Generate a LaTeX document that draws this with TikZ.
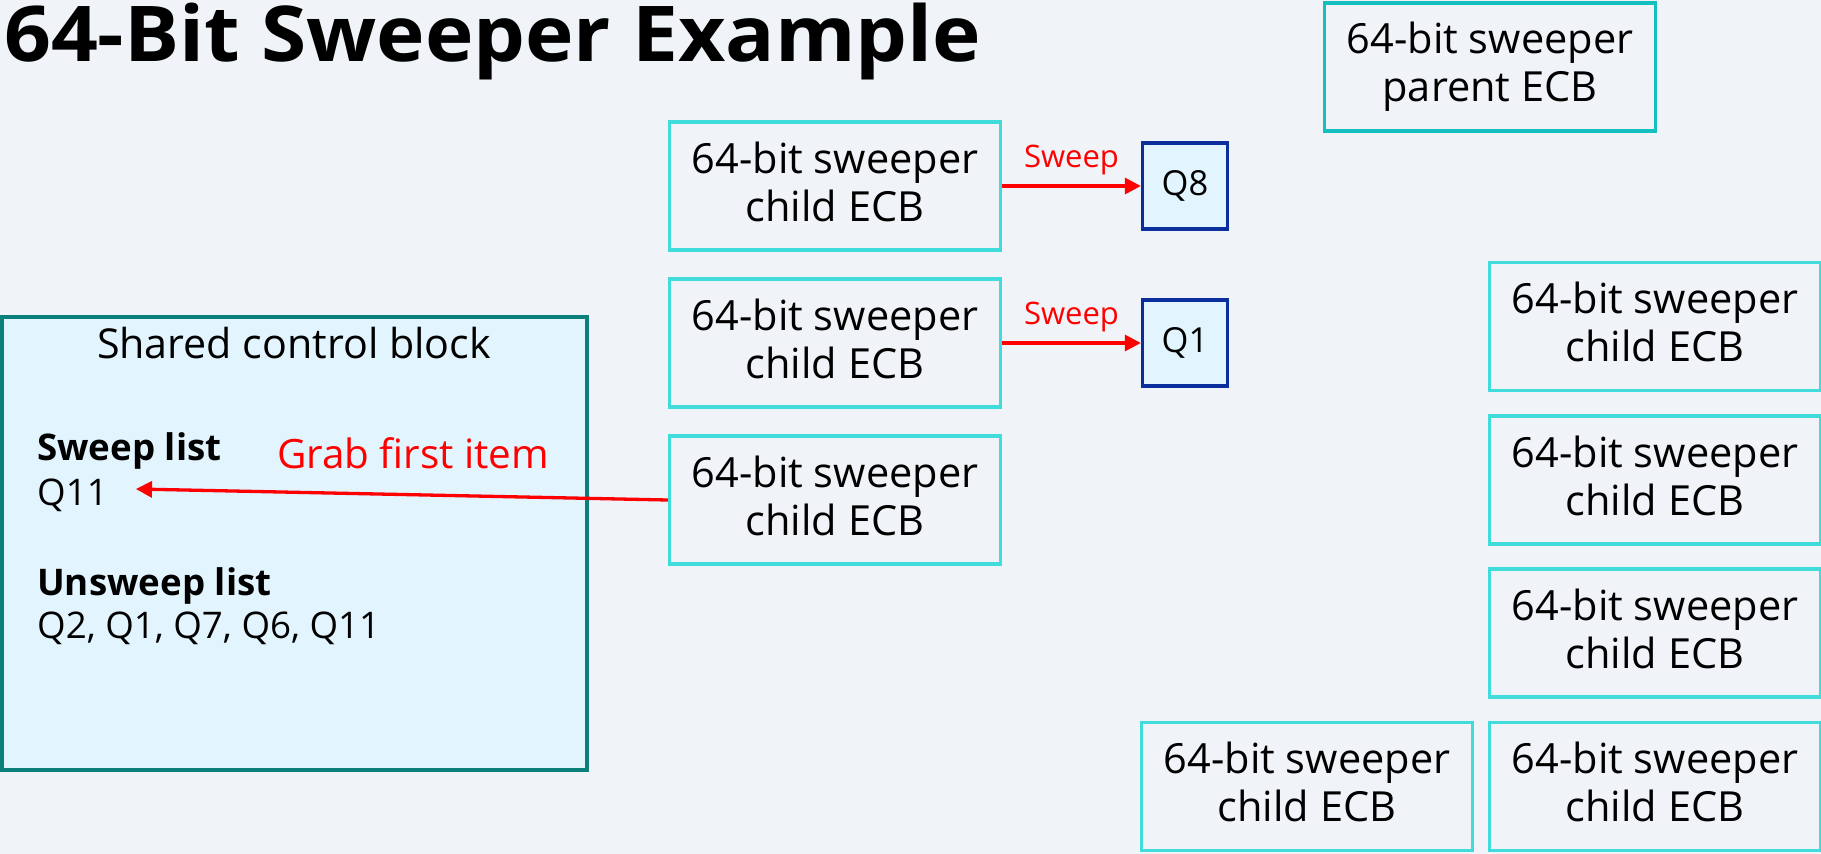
\documentclass[tikz,border=0pt]{standalone}
\usepackage{fontspec}
\setmainfont{Open Sans}
\usetikzlibrary{arrows.meta,calc}

\definecolor{pagebg}{HTML}{F0F4F8}
\definecolor{panelfill}{HTML}{E2F4FD}
\definecolor{sharedrim}{HTML}{0B7F7A}
\definecolor{childrim}{HTML}{40DCDB}
\definecolor{parentrim}{HTML}{14C0BF}
\definecolor{queuerim}{HTML}{0A2E9C}
\definecolor{alertred}{HTML}{FF0000}

% heading, stretched to its set width
\newsavebox\headbox
\sbox\headbox{\fontsize{77}{90}\selectfont\bfseries 64-Bit Sweeper Example}

\tikzset{
  ecb/.style={draw=childrim, line width=3.3pt, minimum width=331pt,
    minimum height=128pt, inner sep=0pt, align=center,
    font=\fontsize{41.5}{48}\selectfont,
    execute at end node={\rule[-9pt]{0pt}{9pt}}},
  parentecb/.style={ecb, draw=parentrim},
  qbox/.style={draw=queuerim, fill=panelfill, line width=3.3pt,
    minimum width=85pt, minimum height=86pt, inner sep=0pt,
    font=\fontsize{34.5}{40}\selectfont},
  flow/.style={draw=alertred, line width=3.3pt,
    -{Triangle[length=16pt,width=16pt]}},
  tag/.style={text=alertred, font=\fontsize{31}{36}\selectfont,
    inner sep=0pt, anchor=base, yshift=19pt},
  listhead/.style={anchor=base west, inner sep=0pt,
    font=\bfseries\fontsize{36.7}{44}\selectfont},
  listbody/.style={anchor=base west, inner sep=0pt,
    font=\fontsize{36.7}{44}\selectfont},
}

\begin{document}
\begin{tikzpicture}[x=1pt,y=-1pt]
  \path[use as bounding box, fill=pagebg] (0,0) rectangle (1821,854);

  % heading
  \node[anchor=base west, inner sep=0pt] (head) at (4,61)
    {\resizebox{977pt}{\ht\headbox}{\usebox\headbox}};

  % shared control block
  \node[draw=sharedrim, fill=panelfill, line width=3.5pt,
        minimum width=585pt, minimum height=453pt] (shared) at (294.5,543.5) {};
  \node[anchor=base, inner sep=0pt, font=\fontsize{41.2}{48}\selectfont]
    (sharedtitle) at (294,358) {Shared control block};
  \node[listhead] (sweephead) at (37,460) {Sweep list};
  \node[listbody] (q11) at (37,505) {Q11};
  \node[listhead] (unsweephead) at (37,595) {Unsweep list};
  \node[listbody] (unsweep) at (37,638) {Q2, Q1, Q7, Q6, Q11};
  \node[anchor=base west, inner sep=0pt, text=alertred,
        font=\fontsize{40.4}{46}\selectfont] (grab) at (277,468) {Grab first item};

  % working child ECBs and their queues
  \node[ecb] (c1) at (835,186) {64-bit sweeper\\child ECB};
  \node[ecb] (c2) at (835,343) {64-bit sweeper\\child ECB};
  \node[ecb] (c3) at (835,500) {64-bit sweeper\\child ECB};
  \node[qbox] (q8) at (1185,186) {Q8};
  \node[qbox] (q1) at (1185,343) {Q1};

  % parent and idle child ECBs
  \node[parentecb] (parent) at (1490,67) {64-bit sweeper\\parent ECB};
  \node[ecb] (r1) at (1655,326.5) {64-bit sweeper\\child ECB};
  \node[ecb] (r2) at (1655,480) {64-bit sweeper\\child ECB};
  \node[ecb] (r3) at (1655,633) {64-bit sweeper\\child ECB};
  \node[ecb] (r4) at (1655,786.5) {64-bit sweeper\\child ECB};
  \node[ecb] (b1) at (1307,786.5) {64-bit sweeper\\child ECB};

  % connectors
  \draw[flow] (c1.east) -- node[tag] {Sweep} (q8.west);
  \draw[flow] (c2.east) -- node[tag] {Sweep} (q1.west);
  \coordinate (grabtip) at ($(q11.base east)+(28,-16)$);
  \draw[flow] (c3.west) -- (grabtip);
\end{tikzpicture}
\end{document}
